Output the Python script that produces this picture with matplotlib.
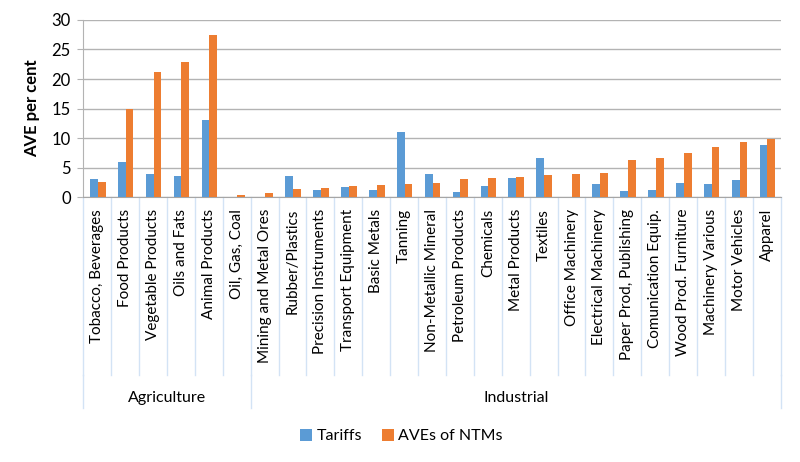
import numpy as np
import matplotlib
matplotlib.use('Agg')
import matplotlib.pyplot as plt

plt.rcParams['font.family'] = ['Lato', 'DejaVu Sans']

categories = ['Tobacco, Beverages', 'Food Products', 'Vegetable Products', 'Oils and Fats',
              'Animal Products', 'Oil, Gas, Coal', 'Mining and Metal Ores', 'Rubber/Plastics',
              'Precision Instruments', 'Transport Equipment', 'Basic Metals', 'Tanning',
              'Non-Metallic Mineral', 'Petroleum Products', 'Chemicals', 'Metal Products',
              'Textiles', 'Office Machinery', 'Electrical Machinery', 'Paper Prod, Publishing',
              'Comunication Equip.', 'Wood Prod. Furniture', 'Machinery Various',
              'Motor Vehicles', 'Apparel']
tariffs = [3.05, 5.9, 3.9, 3.6, 13.0, 0.0, 0.0, 3.6, 1.3, 1.75, 1.3, 11.0,
           3.9, 0.95, 1.85, 3.3, 6.6, 0.1, 2.2, 1.1, 1.25, 2.45, 2.2, 2.9, 8.8]
ntms = [2.5, 14.9, 21.2, 22.9, 27.5, 0.3, 0.8, 1.45, 1.65, 1.9, 2.1, 2.2,
        2.4, 3.05, 3.3, 3.45, 3.7, 3.9, 4.15, 6.3, 6.6, 7.5, 8.5, 9.35, 9.9]
groups = ['Agriculture', 'Industrial']
group_sizes = [6, 19]

blue = '#5B9BD5'
orange = '#ED7D31'
sep = '#d3e3f5'

fig = plt.figure(figsize=(8, 4.62), dpi=100)
ax = fig.add_axes([0.104, 0.573, 0.872, 0.384])

x = np.arange(len(categories))
w = 0.28
ax.bar(x - 0.12, tariffs, w, color=blue, label='Tariffs', zorder=3)
ax.bar(x + 0.16, ntms, w, color=orange, label='AVEs of NTMs', zorder=3)

ax.set_xlim(-0.5, len(categories) - 0.5)
ax.set_ylim(0, 30)
ax.set_yticks(range(0, 31, 5))
ax.yaxis.grid(True, color='#b3b3b3', linewidth=1)
ax.set_axisbelow(True)
ax.set_xticks([])
ax.tick_params(axis='y', labelsize=12, length=4, color='#b3b3b3', pad=5)
for s in ['top', 'right']:
    ax.spines[s].set_visible(False)
ax.spines['left'].set_color('#b3b3b3')
ax.spines['bottom'].set_color('#a6a6a6')
ax.set_ylabel('AVE per cent', fontsize=12, fontweight='bold', labelpad=8)

# category / group table under the axis
trans = ax.get_xaxis_transform()
for b in np.arange(len(categories) + 1) - 0.5:
    ax.plot([b, b], [0, -1.0], transform=trans, color=sep, lw=1, clip_on=False)
for i, c in enumerate(categories):
    ax.text(i, -0.065, c, rotation=90, ha='center', va='top', fontsize=11,
            transform=trans)

start = 0
for g, n in zip(groups, group_sizes):
    ax.plot([start - 0.5, start - 0.5], [-1.0, -1.19], transform=trans,
            color=sep, lw=1, clip_on=False)
    ax.text(start + (n - 1) / 2, -1.13, g, ha='center', va='center', fontsize=11.5,
            transform=trans)
    start += n
ax.plot([start - 0.5, start - 0.5], [-1.0, -1.19], transform=trans,
        color=sep, lw=1, clip_on=False)

fig.legend(loc='center', bbox_to_anchor=(0.502, 0.056), ncol=2, frameon=False,
           fontsize=11.5, handlelength=0.75, handleheight=0.75, handletextpad=0.3,
           columnspacing=1.2)

fig.savefig('out.png', dpi=100)
